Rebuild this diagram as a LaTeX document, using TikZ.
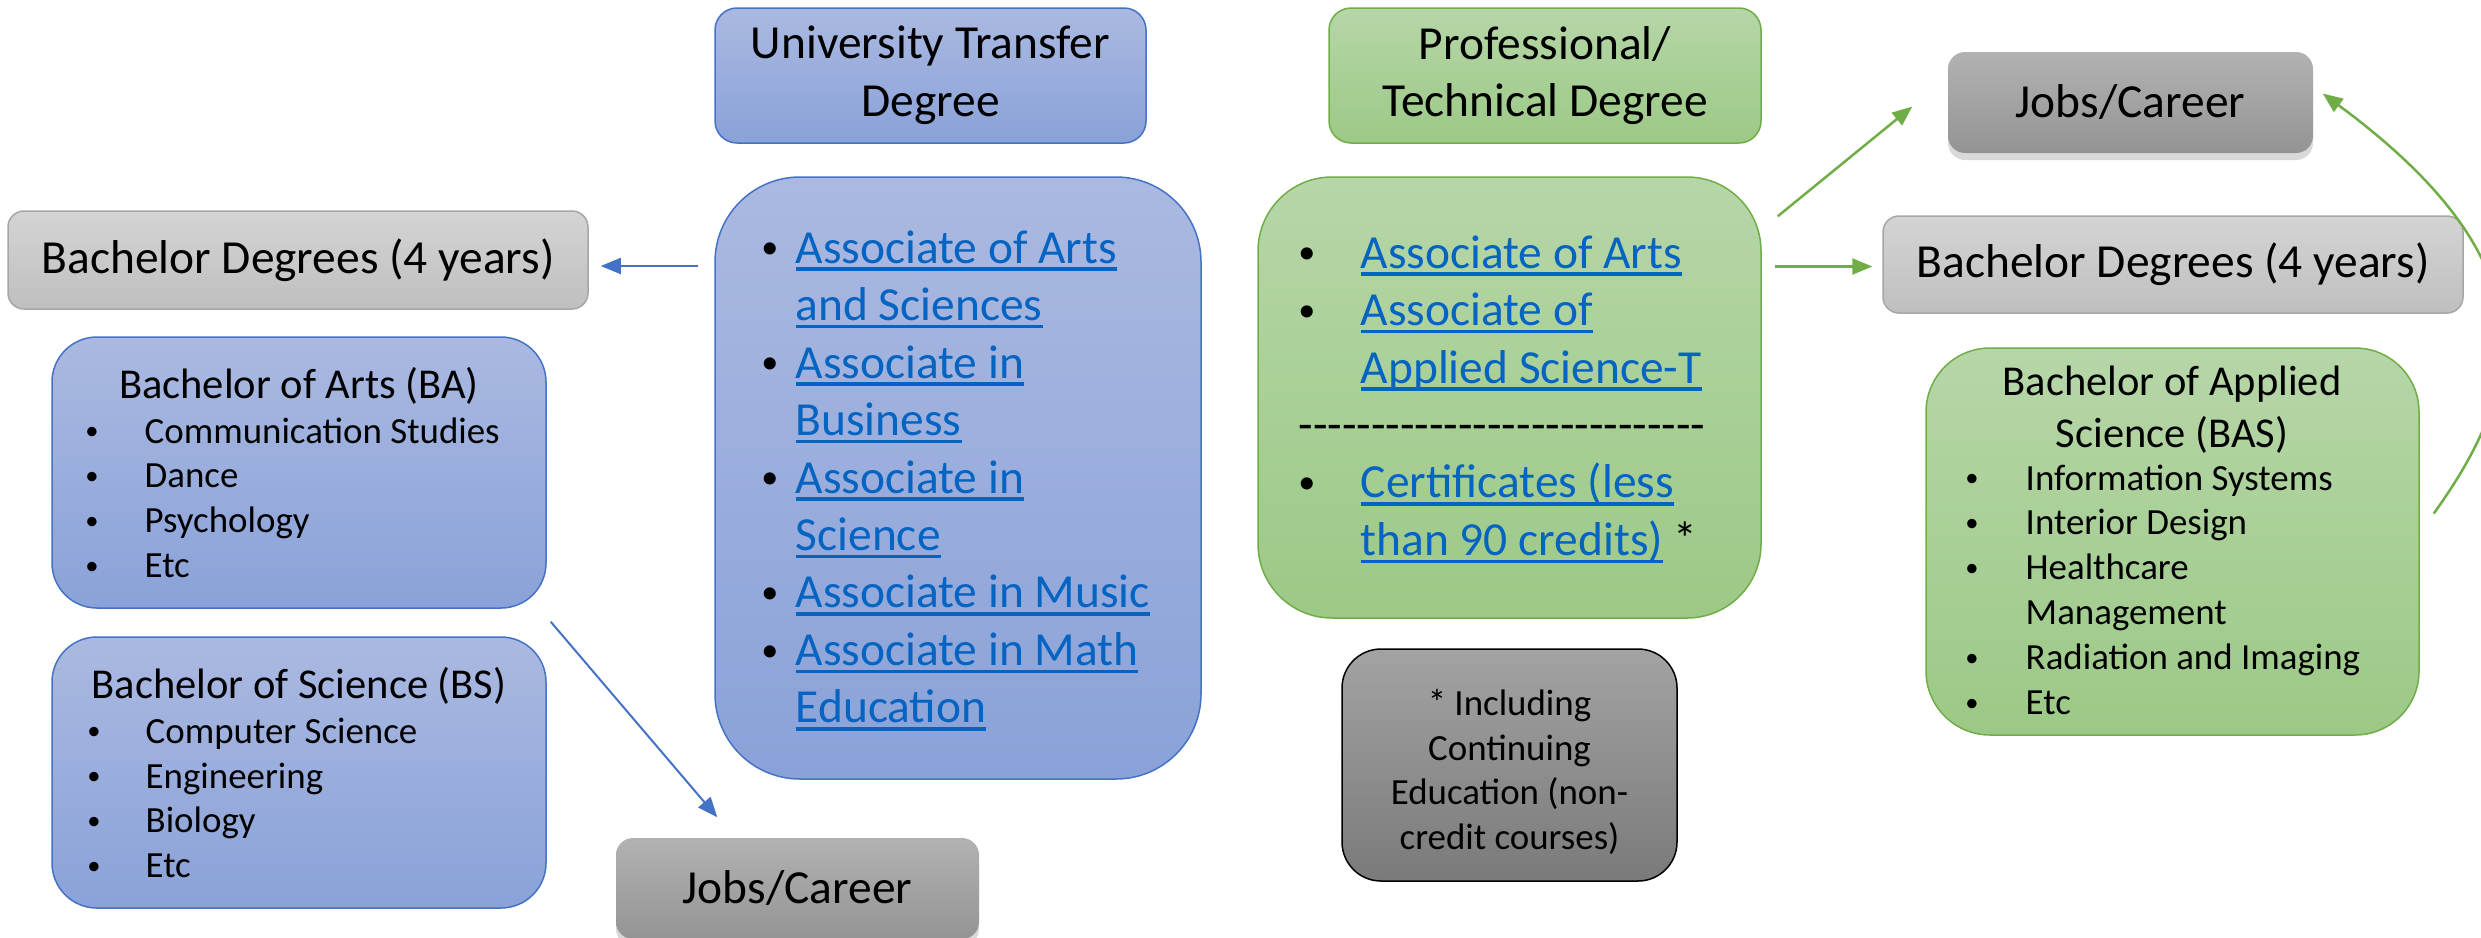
\documentclass[tikz,border=0pt]{standalone}
\usepackage{fontspec}
\usepackage{graphicx}
\setmainfont{Carlito}
\usetikzlibrary{arrows.meta,shadows,calc}

\definecolor{bluetop}{RGB}{170,185,225}
\definecolor{bluebot}{RGB}{138,162,216}
\definecolor{blueline}{RGB}{68,114,196}
\definecolor{greentop}{RGB}{182,214,168}
\definecolor{greenbot}{RGB}{156,201,134}
\definecolor{greenline}{RGB}{112,173,71}
\definecolor{lgtop}{RGB}{212,212,212}
\definecolor{lgbot}{RGB}{191,191,191}
\definecolor{lgline}{RGB}{166,166,166}
\definecolor{dgtop}{RGB}{178,178,178}
\definecolor{dgbot}{RGB}{148,148,148}
\definecolor{ntop}{RGB}{163,163,163}
\definecolor{nbot}{RGB}{122,122,122}
\definecolor{linkblue}{RGB}{5,99,193}

\newcommand\bigtxt{\fontsize{13.5}{16.36}\selectfont}
\newcommand\midtxt{\fontsize{12.1}{14.8}\selectfont}
\newcommand\smtxt{\fontsize{10.5}{12.8}\selectfont}
\newcommand\bul{\hspace*{0.1em}\raisebox{0.09em}{\scalebox{0.72}{•}}}
\newcommand\lnk[1]{{\color{linkblue}\setbox0\hbox{#1}\rlap{\rule[-2.2pt]{\wd0}{1pt}}\box0}}
\newcommand\dashrow{\hspace*{0.5mm}\foreach \d in {1,...,28}{\mbox{-}}}

\begin{document}
\begin{tikzpicture}[x=0.1mm, y=-0.1mm, >={Triangle[length=2mm,width=1.6mm]},
    rbox/.style={rounded corners=#1, inner sep=0pt, align=center},
    bluebox/.style={draw=blueline, line width=0.15mm, top color=bluetop, bottom color=bluebot},
    greenbox/.style={draw=greenline, line width=0.15mm, top color=greentop, bottom color=greenbot},
    lightbox/.style={draw=lgline, line width=0.15mm, top color=lgtop, bottom color=lgbot},
    jobbox/.style={top color=dgtop, bottom color=dgbot,
        drop shadow={shadow xshift=0mm, shadow yshift=-0.7mm, opacity=0.3}},
    notebox/.style={draw=black, line width=0.15mm, top color=ntop, bottom color=nbot},
    listtext/.style={anchor=base west, inner sep=0pt},
    bluearrow/.style={->, draw=blueline, line width=0.2mm},
    greenarrow/.style={->, draw=greenline, line width=0.25mm}]
    \useasboundingbox (0,0) rectangle (2481,937);

    % Headers and targets
    \node [rbox=2.2mm, bluebox, minimum width=43.1mm, minimum height=13.5mm, font=\bigtxt]
        (univtitle) at (930.5,75.5) {University Transfer\\Degree};
    \node [rbox=2.2mm, greenbox, minimum width=43.2mm, minimum height=13.5mm, font=\bigtxt]
        (proftitle) at (1545,75.5) {Professional/\\Technical Degree};
    \node [rbox=1.7mm, jobbox, minimum width=36.5mm, minimum height=10.1mm, font=\bigtxt]
        (jobsR) at (2130.5,102.5) {Jobs/Career};
    \node [rbox=1.6mm, lightbox, minimum width=58mm, minimum height=9.8mm, font=\bigtxt]
        (bachL) at (298,260) {Bachelor Degrees (4 years)};
    \node [rbox=1.6mm, lightbox, minimum width=58mm, minimum height=9.7mm, font=\bigtxt]
        (bachR) at (2173,264.5) {Bachelor Degrees (4 years)};
    \node [rbox=1.7mm, jobbox, minimum width=36.3mm, minimum height=10.1mm, font=\bigtxt]
        (jobsL) at (797.5,888.5) {Jobs/Career};

    % Big boxes
    \node [rbox=8.5mm, bluebox, minimum width=48.6mm, minimum height=60.2mm] (univbox) at (958,478) {};
    \node [rbox=7.4mm, greenbox, minimum width=50.3mm, minimum height=44.1mm] (profbox) at (1509.5,397.5) {};
    \node [rbox=4.5mm, bluebox, minimum width=49.4mm, minimum height=27.1mm] (babox) at (299,472.5) {};
    \node [rbox=4.5mm, bluebox, minimum width=49.4mm, minimum height=27.1mm] (bsbox) at (299,772.5) {};
    \node [rbox=6.4mm, greenbox, minimum width=49.3mm, minimum height=38.7mm] (basbox) at (2172.5,541.5) {};
    \node [rbox=3.9mm, notebox, minimum width=33.5mm, minimum height=23.2mm] (notebox) at (1509.5,765) {};

    % Lists
    \node [listtext, font=\bigtxt] (univlist) at (756,263) {\begin{tabular}[t]{@{}p{3.9mm}@{}l@{}}
        \bul & \lnk{Associate of Arts}\\
          & \lnk{and Sciences}\\
        \bul & \lnk{Associate in}\\
          & \lnk{Business}\\
        \bul & \lnk{Associate in}\\
          & \lnk{Science}\\
        \bul & \lnk{Associate in Music}\\
        \bul & \lnk{Associate in Math}\\
          & \lnk{Education}
        \end{tabular}};
    \node [listtext, font=\bigtxt] (proflist) at (1293,268) {\begin{tabular}[t]{@{}p{6.7mm}@{}l@{}}
        \bul & \lnk{Associate of Arts}\\
        \bul & \lnk{Associate of}\\
          & \lnk{Applied Science-T}\\
        \multicolumn{2}{@{}l@{}}{\dashrow}\\
        \bul & \lnk{Certificates (less}\\
          & \lnk{than 90 credits)} *
        \end{tabular}};
    \node [anchor=base, inner sep=0pt, font=\midtxt] (batitle) at (299,398) {Bachelor of Arts (BA)};
    \node [listtext, font=\smtxt] (balist) at (81,443) {\begin{tabular}[t]{@{}p{6.3mm}@{}l@{}}
        \bul & Communication Studies\\
        \bul & Dance\\
        \bul & Psychology\\
        \bul & Etc
        \end{tabular}};
    \node [anchor=base, inner sep=0pt, font=\midtxt] (bstitle) at (299,698) {Bachelor of Science (BS)};
    \node [listtext, font=\smtxt] (bslist) at (83,743) {\begin{tabular}[t]{@{}p{6.2mm}@{}l@{}}
        \bul & Computer Science\\
        \bul & Engineering\\
        \bul & Biology\\
        \bul & Etc
        \end{tabular}};
    \node [anchor=base, inner sep=0pt, font=\midtxt] (bastitle) at (2172,395) {\begin{tabular}[t]{@{}c@{}}
        Bachelor of Applied\\ Science (BAS)
        \end{tabular}};
    \node [listtext, font=\smtxt] (baslist) at (1961,490) {\begin{tabular}[t]{@{}p{6.4mm}@{}l@{}}
        \bul & Information Systems\\
        \bul & Interior Design\\
        \bul & Healthcare\\
          & Management\\
        \bul & Radiation and Imaging\\
        \bul & Etc
        \end{tabular}};
    \node [anchor=base, inner sep=0pt, font=\smtxt] (notetext) at (1509.5,715) {\begin{tabular}[t]{@{}c@{}}
        * Including\\ Continuing\\ Education (non-\\ credit courses)
        \end{tabular}};

    % Arrows
    \draw [bluearrow] ($(bachL.east -| univbox.west)+(-16,6)$) -- ($(bachL.east)+(12,6)$);
    \draw [bluearrow] ($(babox.south east)+(4,13)$) -- ($(jobsL.north west)+(102,-20)$);
    \draw [greenarrow] ($(profbox.north east)+(16,40)$) -- ($(jobsR.west)+(-35,4)$);
    \draw [greenarrow] ($(bachR.west -| profbox.east)+(13,2)$) -- ($(bachR.west)+(-10,2)$);
    \draw [greenarrow] ($(basbox.east)+(14,-28)$) .. controls +(92,-128) and +(230,170) .. ($(jobsR.east)+(9,-9)$);
\end{tikzpicture}
\end{document}
